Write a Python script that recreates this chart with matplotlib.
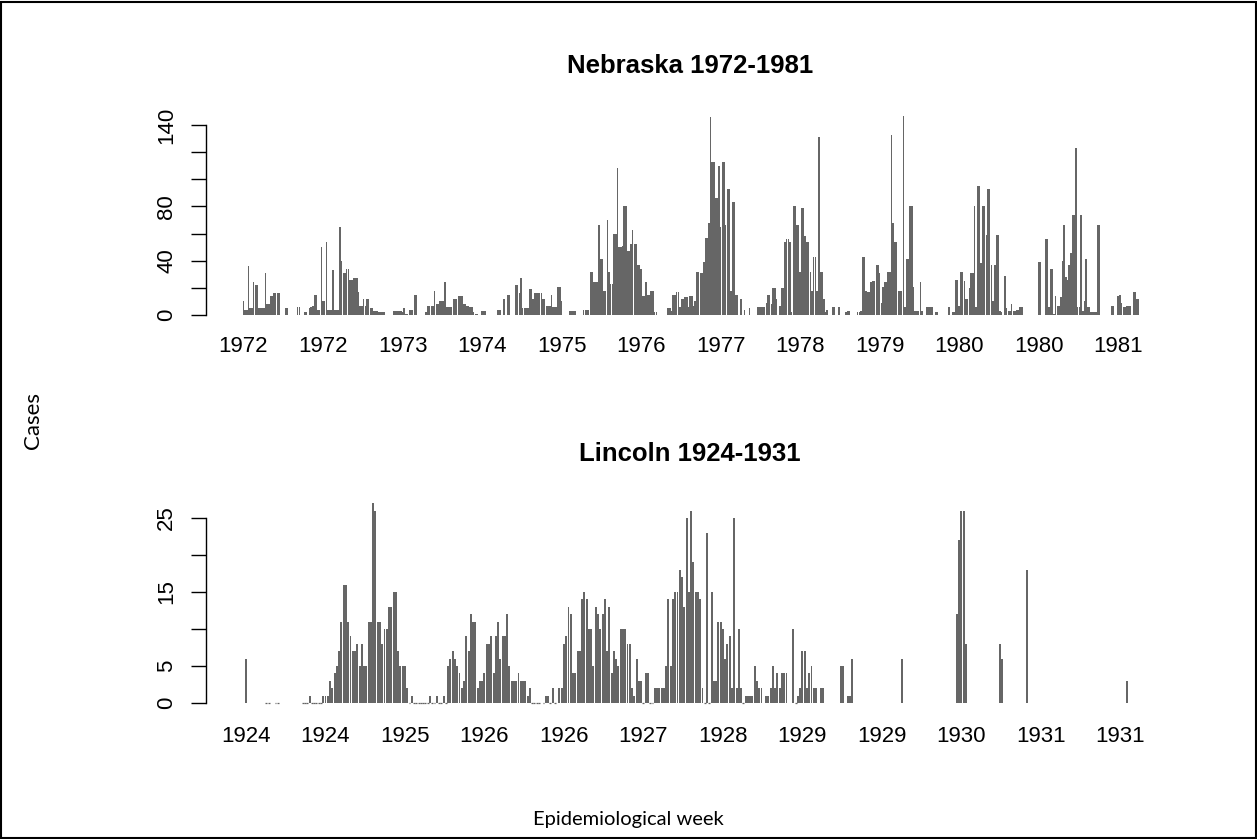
import numpy as np
import matplotlib
matplotlib.use('Agg')
import matplotlib.pyplot as plt
from matplotlib.patches import Rectangle

na = np.nan

# weekly cases, Nebraska
nebraska_cases = [
    10, 4, 4, 36, 5, 5, 24, 22, 22, 5,
    5, 5, 5, 31, 8, 8, 14, 14, 16, 16,
    16, 16, na, na, na, 5, 5, na, na, na,
    na, na, 6, 6, na, na, 2, 2, na, 5,
    6, 7, 15, 15, 4, 4, 50, 10, 10, 54,
    4, 4, 4, 33, 4, 4, 4, 65, 40, 31,
    31, 34, 34, 26, 26, 27, 27, 27, 17, 7,
    7, 12, 7, 12, 12, 5, 5, 3, 3, 3,
    2, 2, 2, 2, na, na, na, na, na, 3,
    3, 3, 3, 3, 2, 5, 1, 1, 4, 4,
    4, 15, 15, na, na, na, na, na, 2, 7,
    7, 7, 7, 18, 8, 8, 10, 10, 10, 24,
    6, 6, 6, 6, 12, 12, 12, 14, 14, 14,
    8, 8, 7, 7, 6, 6, 2, 1, 1, na,
    na, 3, 3, 3, na, na, na, na, na, na,
    4, 4, 4, na, 12, na, 15, 15, na, na,
    na, 22, 22, 16, 27, 5, 5, 5, 5, 19,
    19, 12, 16, 16, 16, 16, 16, 12, 12, 7,
    7, 7, 15, 6, 6, 6, 21, 21, 10, na,
    na, na, na, 3, 3, 3, 3, na, na, na,
    na, 4, 4, 4, 4, 32, 32, 24, 24, 24,
    66, 41, 41, 18, 18, 70, 32, 23, 23, 60,
    60, 108, 50, 50, 51, 80, 80, 47, 47, 52,
    63, 52, 52, 37, 37, 34, 14, 14, 24, 15,
    15, 18, 18, 2, 2, na, na, na, na, na,
    na, 5, 5, 3, 15, 15, 17, 17, 6, 12,
    12, 13, 13, 6, 14, 14, 7, 10, 32, 32,
    31, 31, 39, 57, 57, 68, 146, 113, 113, 86,
    86, 110, 65, 113, 113, 66, 93, 93, 18, 83,
    83, 15, 15, na, 12, na, 4, na, na, 5,
    na, na, na, na, 6, 6, 6, 6, 6, 9,
    15, 15, 8, 20, 20, 12, na, 7, 20, 20,
    54, 56, 56, 54, 2, 80, 80, 66, 66, 32,
    79, 79, 58, 54, 54, 32, 18, 43, 43, 18,
    131, 32, 32, 12, 2, 4, na, na, 6, 6,
    na, na, 6, na, na, na, 2, 3, 3, na,
    na, na, na, 2, 2, 3, 43, 43, 18, 17,
    17, 24, 25, 25, 37, 37, 31, 9, 21, 24,
    24, 32, 32, 133, 68, 54, 54, 18, 18, 18,
    147, 6, 41, 41, 80, 80, 21, 3, 3, 3,
    24, 3, na, na, 6, 6, 6, 6, na, 2,
    2, na, na, na, na, na, na, 6, na, 2,
    2, 26, 26, 7, 32, 32, 25, 12, 12, 20,
    31, 31, 80, 6, 95, 95, 38, 80, 80, 59,
    93, 93, 37, 10, 37, 59, 59, 3, 2, na,
    29, 5, 3, 3, 8, 3, 3, 4, 4, 6,
    6, na, na, na, na, na, na, na, na, na,
    39, 39, na, na, 56, 56, 6, 34, 34, 1,
    14, 7, 7, 13, 40, 66, 28, 26, 37, 46,
    74, 74, 123, 6, 6, 74, 3, 10, 41, 6,
    6, 2, 2, 2, 2, 66, 66, na, na, na,
    na, na, na, 7, 7, na, na, 14, 15, 9,
    6, 6, 7, 7, 7, na, 17, 17, 12, 12,
]
nebraska_tick_pos = [0, 47, 94, 141, 188, 235, 282, 329, 376, 423, 470, 517]
nebraska_tick_labels = ['1972', '1972', '1973', '1974', '1975', '1976',
                        '1977', '1978', '1979', '1980', '1980', '1981']
nebraska_yticks = [0, 20, 40, 60, 80, 100, 120, 140]
nebraska_ylabels = ['0', '', '40', '', '80', '', '', '140']

# weekly cases, Lincoln
lincoln_cases = [
    6, na, na, na, na, na, na, na, na, 0,
    0, na, na, 0, 0, na, na, na, na, na,
    na, na, na, na, na, 0, 0, 0, 1, 0,
    0, 0, 0, 0, 1, 1, 1, 3, 2, 4,
    5, 7, 11, 16, 16, 11, 9, 7, 7, 8,
    5, 8, 5, 5, 11, 11, 27, 26, 11, 11,
    8, 10, 10, 13, 13, 15, 15, 7, 5, 5,
    5, 2, 0, 1, 0, 0, 0, 0, 0, 0,
    0, 1, 0, 0, 1, 0, 0, 1, 0, 5,
    6, 7, 6, 5, 4, 2, 3, 9, 7, 12,
    11, 11, 2, 3, 3, 4, 8, 8, 9, 4,
    9, 11, 6, 9, 9, 12, 5, 3, 3, 3,
    4, 3, 3, 3, 1, 2, 0, 0, 0, 0,
    na, 0, 1, 1, 0, 2, 0, na, 2, 2,
    8, 9, 13, 12, 4, 4, 7, 7, 14, 15,
    14, 10, 10, 5, 13, 12, 10, 12, 14, 7,
    13, 4, 7, 6, 5, 10, 10, 10, 8, 8,
    2, 1, 6, 3, 3, 0, 4, 4, 0, 0,
    2, 2, 2, 2, 2, 5, 14, 5, 14, 15,
    15, 18, 17, 13, 25, 15, 26, 19, 15, 15,
    14, 2, 0, 23, 0, 15, 3, 3, 11, 11,
    10, 6, 8, 9, 2, 25, 2, 10, 2, 0,
    1, 1, 1, 1, 5, 3, 2, 2, na, 1,
    1, 2, 5, 2, 4, 2, 4, 4, 4, na,
    na, 10, 0, 1, 2, 7, 7, 2, 4, 5,
    2, 2, na, 2, 2, na, na, na, na, na,
    na, na, 5, 5, na, 1, 1, 6, na, na,
    na, na, na, na, na, na, na, na, na, na,
    na, na, na, na, na, na, na, na, na, 6,
    na, na, na, na, na, na, na, na, na, na,
    na, na, na, na, na, na, na, na, na, na,
    na, na, na, 12, 22, 26, 26, 8, na, na,
    na, na, na, na, na, na, na, na, na, na,
    na, na, 8, 6, na, na, na, na, na, na,
    na, na, na, na, 18, na, na, na, na, na,
    na, na, na, na, na, na, na, na, na, na,
    na, na, na, na, na, na, na, na, na, na,
    na, na, na, na, na, na, na, na, na, na,
    na, na, na, na, na, na, na, na, 3,
]
lincoln_tick_pos = [0, 35, 70, 105, 140, 175, 210, 245, 280, 315, 350, 385]
lincoln_tick_labels = ['1924', '1924', '1925', '1926', '1926', '1927',
                       '1928', '1929', '1929', '1930', '1931', '1931']
lincoln_yticks = [0, 5, 10, 15, 20, 25]
lincoln_ylabels = ['0', '5', '', '15', '', '25']

plt.rcParams['font.family'] = ['Liberation Sans', 'DejaVu Sans']

W, H = 1257, 839
fig = plt.figure(figsize=(W / 100, H / 100), dpi=100)
bar_col = '#666666'
L, R = 215, 1165   # plot region in pixels


def panel(top, bottom, cases, x0, pitch, y0, yscale, yticks, ylabels,
          tpos, tlabels, title, title_y, bw):
    ax = fig.add_axes([L / W, 1 - bottom / H, (R - L) / W, (bottom - top) / H])
    vals = np.array(cases, dtype=float)
    idx = np.arange(len(vals))
    ax.bar(idx, np.nan_to_num(vals), width=bw, color=bar_col, linewidth=0)
    zero = vals == 0
    ax.bar(idx[zero], vals[zero], width=bw, color=bar_col,
           edgecolor=bar_col, linewidth=0.9)
    ax.set_xlim((L - x0) / pitch, (R - x0) / pitch)
    ax.set_ylim((y0 - bottom) / yscale, (y0 - top) / yscale)
    for s in ['top', 'right', 'bottom']:
        ax.spines[s].set_visible(False)
    ax.spines['left'].set_position(('outward', 6.5))
    ax.spines['left'].set_bounds(yticks[0], yticks[-1])
    ax.spines['left'].set_linewidth(1.0)
    ax.set_yticks(yticks)
    ax.set_yticklabels(ylabels)
    ax.tick_params(axis='y', length=10.8, width=1.0, pad=10, labelsize=16,
                   labelrotation=90)
    for lab in ax.get_yticklabels():
        lab.set_va('center')
    ax.set_xticks(tpos)
    ax.set_xticklabels(tlabels)
    ax.tick_params(axis='x', length=0, pad=8, labelsize=16)
    fig.text(690 / W, 1 - title_y / H, title, ha='center', va='baseline',
             fontsize=18.5, fontweight='bold')
    return ax


ax1 = panel(100, 325, nebraska_cases, 243.5, 1.692, 315, 1.357,
            nebraska_yticks, nebraska_ylabels, nebraska_tick_pos,
            nebraska_tick_labels, 'Nebraska 1972-1981', 73, 0.92)
ax2 = panel(480, 715, lincoln_cases, 246, 2.271, 703, 7.4,
            lincoln_yticks, lincoln_ylabels, lincoln_tick_pos,
            lincoln_tick_labels, 'Lincoln 1924-1931', 461, 0.85)

fig.text(33 / W, 1 - 420 / H, 'Cases', rotation=90, ha='center', va='center',
         fontsize=16, family=['Lato', 'DejaVu Sans'])
fig.text(628 / W, 1 - 820 / H, 'Epidemiological week', ha='center',
         va='center', fontsize=14.5, family=['Lato', 'DejaVu Sans'])

fig.add_artist(Rectangle((1 / W, 1 / H), (W - 2.5) / W, (H - 2.5) / H,
                         transform=fig.transFigure, fill=False,
                         edgecolor='black', linewidth=1.5))

fig.savefig('out.png', dpi=100)
